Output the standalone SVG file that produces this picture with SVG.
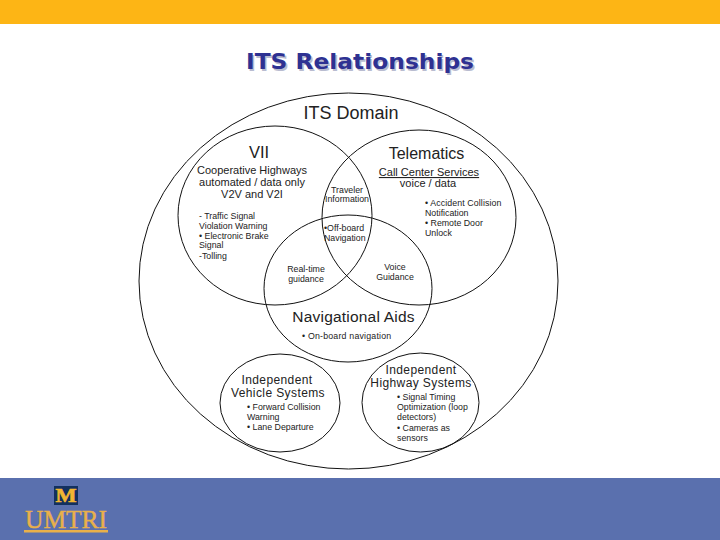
<svg xmlns="http://www.w3.org/2000/svg" width="720" height="540" viewBox="0 0 720 540">
<style>
text{font-family:"Liberation Sans",Arial,sans-serif;fill:#222}
.c{fill:none;stroke:#111;stroke-width:1}
.h{font-size:16px;text-anchor:middle}
.s{font-size:11px;text-anchor:middle}
.b{font-size:8.8px}
.m{font-size:8.8px;text-anchor:middle}
.i{font-size:12px;letter-spacing:.4px;text-anchor:middle}
.t{font-family:"DejaVu Sans",sans-serif;font-weight:bold;font-size:22px;fill:#2e3192;text-anchor:middle;text-shadow:1.5px 1.5px 0 #b9bcd0}
</style>
<rect width="720" height="540" fill="#fff"/>
<rect id="top-bar" width="720" height="24" fill="#fdb515"/>
<rect id="bottom-bar" y="478" width="720" height="62" fill="#5a70ae"/>
<text class="t" x="360" y="69" textLength="228" lengthAdjust="spacingAndGlyphs">ITS Relationships</text>
<g id="connectors"></g>
<g id="domain"><ellipse class="c" cx="348.500" cy="281" rx="209.500" ry="188" fill="#fbfefb"/><text class="h" x="351" y="119" style="font-size:18px">ITS Domain</text></g>
<g id="vii"><ellipse class="c" cx="275" cy="215.500" rx="97" ry="89.500"/>
<text class="h" x="259" y="158" style="font-size:16.500px">VII</text>
<text class="s" x="252" y="174">Cooperative Highways</text>
<text class="s" x="252" y="185.500">automated / data only</text>
<text class="s" x="252" y="198">V2V and V2I</text>
<text class="b" x="199" y="219">- Traffic Signal</text>
<text class="b" x="199" y="229">Violation Warning</text>
<text class="b" x="199" y="238.500">• Electronic Brake</text>
<text class="b" x="199" y="248">Signal</text>
<text class="b" x="199" y="258.500">-Tolling</text></g>
<g id="telematics"><ellipse class="c" cx="419" cy="217.500" rx="97" ry="87.500"/>
<text class="h" x="426.500" y="158.500">Telematics</text>
<text class="s" x="429" y="176" text-decoration="underline">Call Center Services</text>
<text class="s" x="428" y="187">voice / data</text>
<text class="b" x="425" y="206" style="letter-spacing:.1px">• Accident Collision</text>
<text class="b" x="425" y="216">Notification</text>
<text class="b" x="425" y="226">• Remote Door</text>
<text class="b" x="425" y="236">Unlock</text></g>
<g id="overlap-vii-telematics"><text class="m" x="347" y="193">Traveler</text><text class="m" x="347" y="202">Information</text></g>
<g id="navigational-aids"><ellipse class="c" cx="348" cy="288.500" rx="84" ry="73.500"/>
<text class="h" x="353.500" y="322" style="font-size:15.500px;letter-spacing:.2px">Navigational Aids</text>
<text class="b" x="302" y="339" style="letter-spacing:.2px">•  On-board navigation</text></g>
<g id="overlap-center"><text class="b" x="324" y="231">•Off-board</text><text class="b" x="324" y="241">Navigation</text></g>
<g id="overlap-vii-nav"><text class="m" x="306" y="272">Real-time</text><text class="m" x="306" y="282">guidance</text></g>
<g id="overlap-telematics-nav"><text class="m" x="395" y="270">Voice</text><text class="m" x="395" y="280">Guidance</text></g>
<g id="independent-vehicle"><ellipse class="c" cx="280" cy="403" rx="60" ry="49"/>
<text class="i" x="277" y="384">Independent</text>
<text class="i" x="278" y="397">Vehicle Systems</text>
<text class="b" x="247" y="410">• Forward Collision</text>
<text class="b" x="247" y="420">Warning</text>
<text class="b" x="247" y="430">• Lane Departure</text></g>
<g id="independent-highway"><ellipse class="c" cx="420.500" cy="402.500" rx="58.500" ry="49.500"/>
<text class="i" x="421" y="374">Independent</text>
<text class="i" x="421" y="387">Highway Systems</text>
<text class="b" x="397" y="400">• Signal Timing</text>
<text class="b" x="397" y="410">Optimization (loop</text>
<text class="b" x="397" y="420">detectors)</text>
<text class="b" x="397" y="431">• Cameras  as</text>
<text class="b" x="397" y="441">sensors</text></g>
<g id="logo"><rect x="54" y="486" width="24" height="19" fill="#12305f"/>
<text x="66" y="502" style="font-family:'Liberation Serif',serif;font-weight:bold;font-size:19px;fill:#f2b632;text-anchor:middle;stroke:#f2b632;stroke-width:.6" textLength="21" lengthAdjust="spacingAndGlyphs">M</text>
<text x="66" y="528" style="font-family:'Liberation Serif',serif;font-size:25px;fill:#e8b04a;text-anchor:middle;stroke:#e8b04a;stroke-width:.4" textLength="82" lengthAdjust="spacingAndGlyphs">UMTRI</text>
<rect x="24" y="530" width="84" height="2.500" fill="#e8b04a"/></g>
</svg>
